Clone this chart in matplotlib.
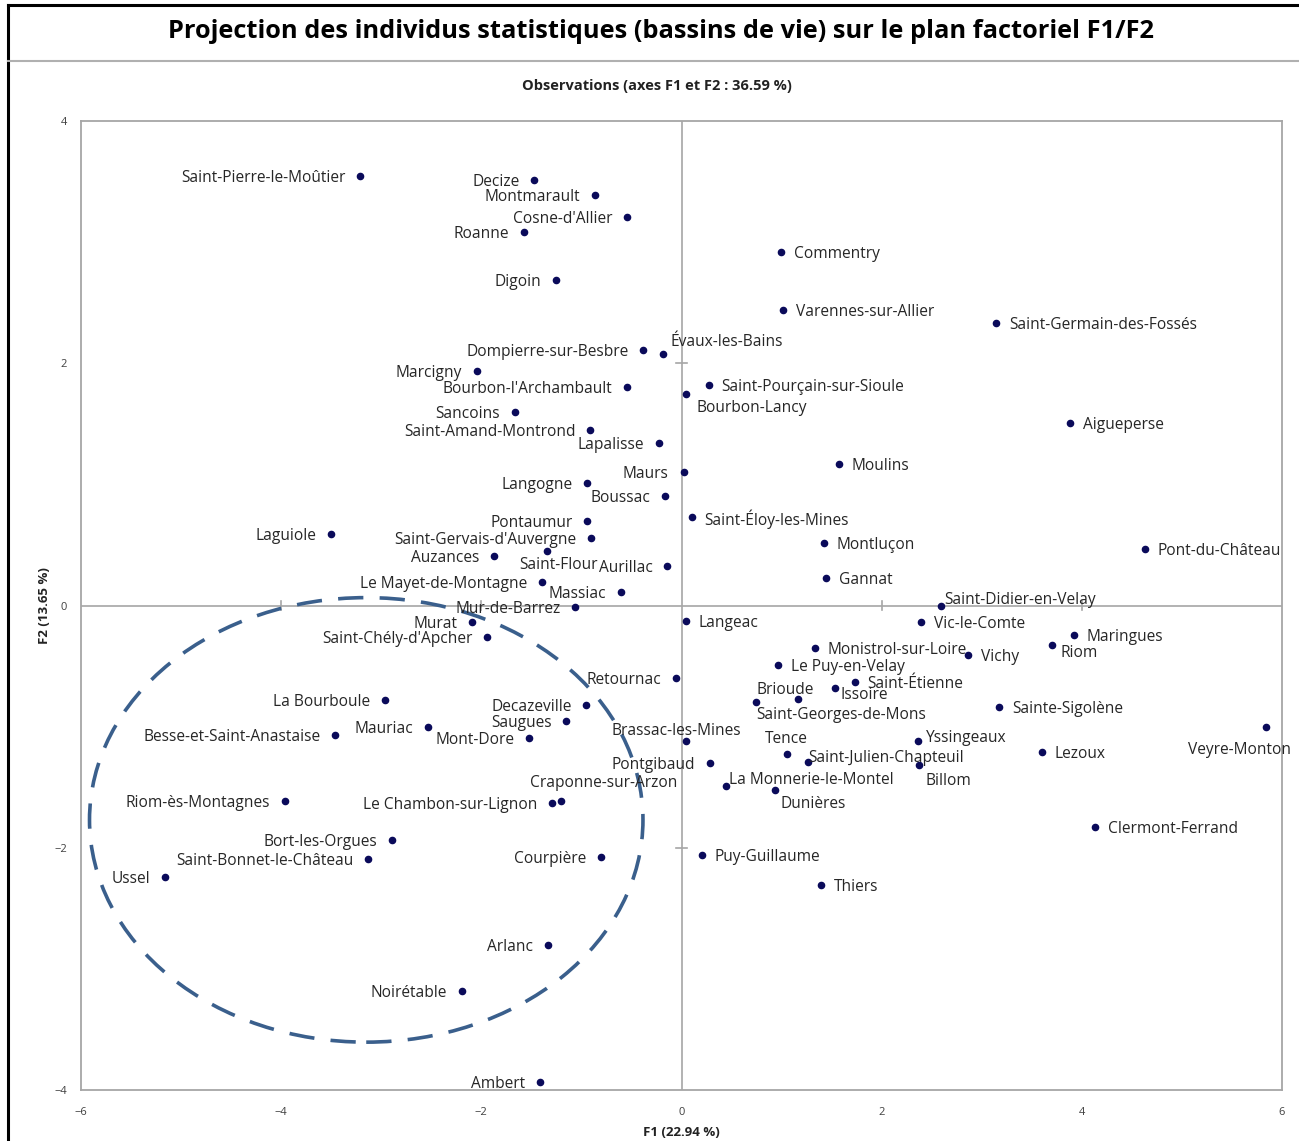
import matplotlib
matplotlib.use("Agg")
import matplotlib.pyplot as plt
from matplotlib.patches import Ellipse
from matplotlib.lines import Line2D

plt.rcParams['font.family'] = ['Open Sans', 'DejaVu Sans']

# ---------------- data ----------------
names = [
    "Saint-Pierre-le-Moûtier", "Decize", "Montmarault", "Cosne-d'Allier", "Roanne", "Digoin",
    "Commentry", "Varennes-sur-Allier", "Saint-Germain-des-Fossés", "Dompierre-sur-Besbre",
    "Évaux-les-Bains", "Marcigny", "Bourbon-l'Archambault", "Saint-Pourçain-sur-Sioule",
    "Bourbon-Lancy", "Sancoins", "Saint-Amand-Montrond", "Aigueperse", "Lapalisse", "Maurs",
    "Moulins", "Langogne", "Boussac", "Saint-Éloy-les-Mines", "Pontaumur", "Laguiole",
    "Saint-Gervais-d'Auvergne", "Montluçon", "Pont-du-Château", "Saint-Flour", "Auzances",
    "Aurillac", "Gannat", "Le Mayet-de-Montagne", "Massiac", "Mur-de-Barrez",
    "Saint-Didier-en-Velay", "Langeac", "Vic-le-Comte", "Murat", "Saint-Chély-d'Apcher",
    "Maringues", "Riom", "Monistrol-sur-Loire", "Vichy", "Le Puy-en-Velay", "Retournac",
    "Saint-Étienne", "Issoire", "Brioude", "Saint-Georges-de-Mons", "Sainte-Sigolène",
    "Decazeville", "La Bourboule", "Saugues", "Mauriac", "Veyre-Monton",
    "Besse-et-Saint-Anastaise", "Mont-Dore", "Brassac-les-Mines", "Yssingeaux", "Tence",
    "Lezoux", "Saint-Julien-Chapteuil", "Pontgibaud", "Billom", "La Monnerie-le-Montel",
    "Dunières", "Riom-ès-Montagnes", "Craponne-sur-Arzon", "Le Chambon-sur-Lignon",
    "Clermont-Ferrand", "Bort-les-Orgues", "Puy-Guillaume", "Courpière",
    "Saint-Bonnet-le-Château", "Ussel", "Thiers", "Arlanc", "Noirétable", "Ambert",
]
f1 = [
    -3.21, -1.47, -0.86, -0.54, -1.57, -1.25,
    0.99, 1.01, 3.14, -0.38,
    -0.18, -2.04, -0.54, 0.27,
    0.04, -1.66, -0.91, 3.88, -0.22, 0.02,
    1.57, -0.94, -0.16, 0.10, -0.94, -3.50,
    -0.90, 1.42, 4.63, -1.34, -1.87,
    -0.14, 1.44, -1.39, -0.60, -1.06,
    2.59, 0.04, 2.39, -2.09, -1.94,
    3.92, 3.70, 1.33, 2.86, 0.96, -0.05,
    1.73, 1.53, 1.16, 0.74, 3.17,
    -0.95, -2.96, -1.15, -2.53, 5.84,
    -3.46, -1.52, 0.04, 2.36, 1.05,
    3.60, 1.26, 0.28, 2.37, 0.44,
    0.93, -3.96, -1.20, -1.29,
    4.13, -2.89, 0.20, -0.80,
    -3.13, -5.16, 1.39, -1.33, -2.19, -1.41,
]
f2 = [
    3.55, 3.51, 3.39, 3.21, 3.08, 2.69,
    2.92, 2.44, 2.33, 2.11,
    2.08, 1.94, 1.80, 1.82,
    1.75, 1.60, 1.45, 1.51, 1.34, 1.10,
    1.17, 1.01, 0.90, 0.73, 0.70, 0.59,
    0.56, 0.52, 0.47, 0.45, 0.41,
    0.33, 0.23, 0.19, 0.11, -0.01,
    0.00, -0.13, -0.14, -0.14, -0.26,
    -0.24, -0.33, -0.35, -0.41, -0.49, -0.60,
    -0.63, -0.68, -0.77, -0.80, -0.84,
    -0.82, -0.78, -0.95, -1.00, -1.00,
    -1.07, -1.09, -1.12, -1.12, -1.23,
    -1.21, -1.29, -1.30, -1.32, -1.49,
    -1.52, -1.61, -1.61, -1.63,
    -1.83, -1.94, -2.06, -2.08,
    -2.09, -2.24, -2.31, -2.80, -3.18, -3.93,
]
x_ticks = [-6, -4, -2, 0, 2, 4, 6]
y_ticks = [-4, -2, 0, 2, 4]
title = "Projection des individus statistiques (bassins de vie) sur le plan factoriel F1/F2"
subtitle = "Observations (axes F1 et F2 : 36.59 %)"
xlabel = "F1 (22.94 %)"
ylabel = "F2 (13.65 %)"
# circled group (ellipse centre, width, height in factor units)
ell_center = (-3.15, -1.77)
ell_size = (5.53, 3.67)

# ---------------- label placement (styling, pixel offsets) ----------------
place = {
    "Évaux-les-Bains": (7, 14, 'left'),
    "Bourbon-Lancy": (11, -12, 'left'),
    "Saint-Flour": (-28, -12, 'left'),
    "Saint-Didier-en-Velay": (4, 7, 'left'),
    "Riom": (9, -6, 'left'),
    "Issoire": (6, -5, 'left'),
    "Brioude": (-41, 11, 'left'),
    "Saint-Georges-de-Mons": (1, -11, 'left'),
    "Veyre-Monton": (25, -21, 'right'),
    "Brassac-les-Mines": (-9, 12, 'center'),
    "Yssingeaux": (8, 5, 'left'),
    "Tence": (0, 17, 'center'),
    "Saint-Julien-Chapteuil": (1, 6, 'left'),
    "Billom": (7, -14, 'left'),
    "La Monnerie-le-Montel": (3, 8, 'left'),
    "Dunières": (6, -12, 'left'),
    "Craponne-sur-Arzon": (-31, 20, 'left'),
}
right_side = {
    "Commentry", "Varennes-sur-Allier", "Saint-Germain-des-Fossés", "Saint-Pourçain-sur-Sioule",
    "Aigueperse", "Moulins", "Saint-Éloy-les-Mines", "Montluçon", "Pont-du-Château", "Gannat",
    "Langeac", "Vic-le-Comte", "Maringues", "Monistrol-sur-Loire", "Vichy", "Le Puy-en-Velay",
    "Saint-Étienne", "Sainte-Sigolène", "Lezoux", "Clermont-Ferrand", "Puy-Guillaume", "Thiers",
}

W, H, DPI = 1299, 1141, 100
fig = plt.figure(figsize=(W / DPI, H / DPI), dpi=DPI)
fig.patch.set_facecolor('white')

def fx(px):
    return px / W

def fy(py):
    return 1 - py / H

# outer frame and title separator
fig.add_artist(Line2D([fx(8), 1.0], [fy(5), fy(5)], color='black', lw=2.2, transform=fig.transFigure))
fig.add_artist(Line2D([fx(8), fx(8)], [fy(5), 0.0], color='black', lw=2.2, transform=fig.transFigure))
fig.add_artist(Line2D([fx(8), 1.0], [fy(61), fy(61)], color='#B0B0B0', lw=1.5, transform=fig.transFigure))

fig.text(fx(661), fy(31), title, ha='center', va='center', fontsize=18.3, fontweight='bold', color='black')
fig.text(fx(657), fy(86), subtitle, ha='center', va='center', fontsize=10.5, fontweight='bold', color='#222222')

ax = fig.add_axes([fx(81), fy(1090), (1282 - 81) / W, (1090 - 121) / H])
ax.set_xlim(-6, 6)
ax.set_ylim(-4, 4)
for s in ax.spines.values():
    s.set_color('#A6A6A6')
    s.set_linewidth(1.3)
ax.set_xticks(x_ticks)
ax.set_yticks(y_ticks)
ax.tick_params(length=0, labelsize=8, labelcolor='#404040')
ax.tick_params(axis='x', pad=12)
ax.tick_params(axis='y', pad=10)
ax.set_xlabel(xlabel, fontsize=9.5, fontweight='bold', color='#222222', va='center')
ax.set_ylabel(ylabel, fontsize=9.5, fontweight='bold', color='#222222', va='center')
ax.xaxis.set_label_coords(0.5, (1090 - 1132) / (1090 - 121))
ax.yaxis.set_label_coords((44 - 81) / (1282 - 81), 0.5)

# zero lines with small tick marks
ax.axhline(0, color='#A6A6A6', lw=1.2, zorder=1)
ax.axvline(0, color='#A6A6A6', lw=1.2, zorder=1)
for t in x_ticks:
    if t not in (-6, 0, 6):
        ax.plot([t, t], [-0.035, 0.035], color='#A6A6A6', lw=1.2, zorder=1)
for t in y_ticks:
    if t not in (-4, 0, 4):
        ax.plot([-0.05, 0.05], [t, t], color='#A6A6A6', lw=1.2, zorder=1)

ax.add_patch(Ellipse(ell_center, ell_size[0], ell_size[1], fill=False, edgecolor='#3A5F8C',
                     lw=2.6, linestyle=(0, (7, 4.5)), zorder=2))

ax.scatter(f1, f2, s=20, color='#0A0A5A', zorder=3)

px2pt = 72 / DPI
for n, x, y in zip(names, f1, f2):
    if n in place:
        dx, dy, ha = place[n]
    elif n in right_side:
        dx, dy, ha = 13, 0, 'left'
    else:
        dx, dy, ha = -15, 0, 'right'
    ax.annotate(n, (x, y), xytext=(dx * px2pt, (dy - 2) * px2pt), textcoords='offset points',
                ha=ha, va='center', fontsize=11.2, color='#262626', zorder=4)

fig.savefig('out.png', dpi=DPI)
